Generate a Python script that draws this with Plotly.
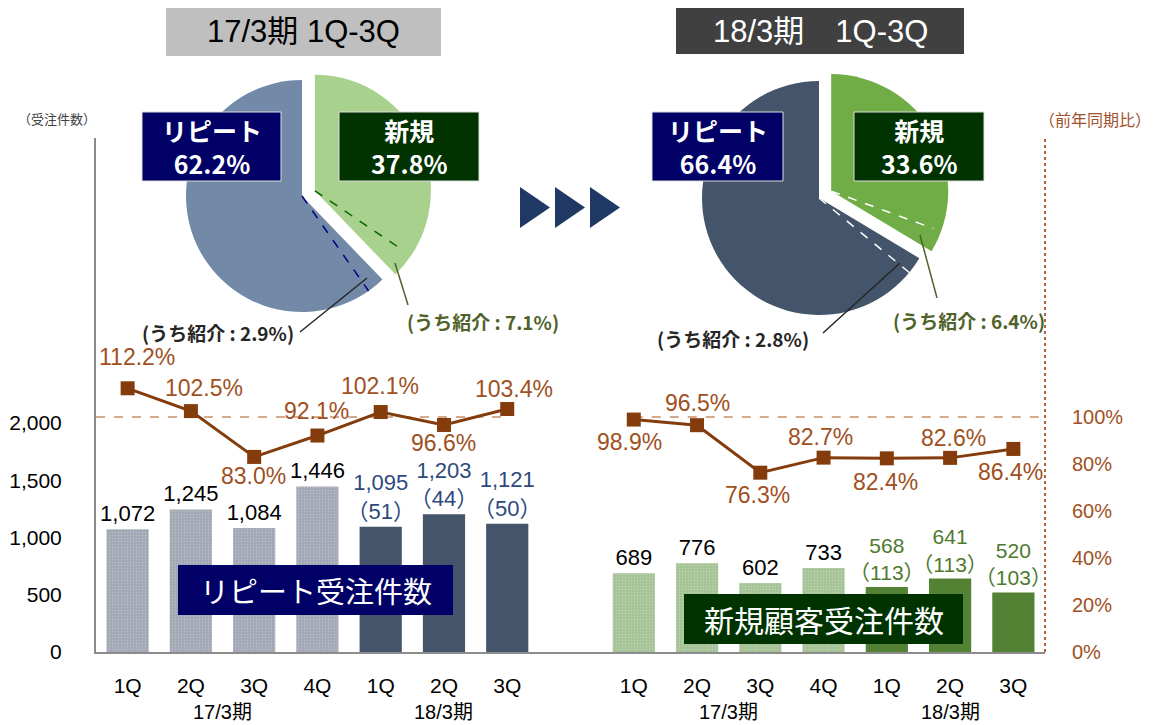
import math
import plotly.graph_objects as go

W, H = 1153, 725
OFF = 8  # page body margin
FW, FH = W - OFF, H - OFF

# ---------------- data ----------------
quarters_prev = ["1Q", "2Q", "3Q", "4Q"]
quarters_cur = ["1Q", "2Q", "3Q"]
period_labels = ["17/3期", "18/3期"]
repeat_prev = [1072, 1245, 1084, 1446]
repeat_cur = [1095, 1203, 1121]
repeat_cur_ref = [51, 44, 50]
new_prev = [689, 776, 602, 733]
new_cur = [568, 641, 520]
new_cur_ref = [113, 113, 103]
repeat_yoy = [112.2, 102.5, 83.0, 92.1, 102.1, 96.6, 103.4]
new_yoy = [98.9, 96.5, 76.3, 82.7, 82.4, 82.6, 86.4]
pie_titles = ["17/3期 1Q-3Q", "18/3期　1Q-3Q"]
pie_labels = ["リピート", "新規"]
share_prev = [62.2, 37.8]
share_cur = [66.4, 33.6]
ref_prev = [2.9, 7.1]
ref_cur = [2.8, 6.4]
box_labels = ["リピート受注件数", "新規顧客受注件数"]
count_axis_title = "（受注件数）"
ratio_axis_title = "（前年同期比）"
count_ticks = [0, 500, 1000, 1500, 2000]
ratio_ticks = [0, 20, 40, 60, 80, 100]

# ---------------- helpers ----------------
def px(x):
    return (x - OFF) / FW


def py(y):
    return 1 - (y - OFF) / FH


JP = "Noto Sans CJK JP"
NUM = "Liberation Sans, Noto Sans CJK JP"
BROWN_LINE = "#843C0C"
BROWN_TXT = "#A0501E"

n_prev = len(quarters_prev)
n_cur = len(quarters_cur)
n_grp = n_prev + n_cur
gap = 1
x_left = list(range(n_grp))
x_right = [i + n_grp + gap for i in range(n_grp)]

fig = go.Figure()

bar_w = 0.667

def bar(xs, ys, color, text, tcolor, pattern=None, size=22):
    mk = dict(color=color, line=dict(width=0))
    if pattern:
        mk["pattern"] = pattern
    return go.Bar(x=xs, y=ys, width=bar_w, marker=mk, text=text,
                  textposition="outside", cliponaxis=False, constraintext="none",
                  textfont=dict(family=NUM, size=size, color=tcolor),
                  hoverinfo="skip", showlegend=False)

gray_pat = dict(shape=".", size=3, solidity=0.3, fgcolor="#B8BCC5", bgcolor="#A0A6B3")
green_pat = dict(shape=".", size=3, solidity=0.3, fgcolor="#BCD2B0", bgcolor="#A3C293")

fig.add_trace(bar(x_left[:n_prev], repeat_prev, "#A2A8B5",
                  [f"{v:,}" for v in repeat_prev], "#000000", gray_pat))
fig.add_trace(bar(x_left[n_prev:], repeat_cur, "#44546A",
                  [f"{v:,}<br>（{r}）" for v, r in zip(repeat_cur, repeat_cur_ref)], "#2E4A7D"))
fig.add_trace(bar(x_right[:n_prev], new_prev, "#A5C495",
                  [f"{v:,}" for v in new_prev], "#000000", green_pat))
fig.add_trace(bar(x_right[n_prev:], new_cur, "#548235",
                  [f"{v:,}<br>（{r}）" for v, r in zip(new_cur, new_cur_ref)], "#4E7A2E", size=21))

for xs, ys in [(x_left, repeat_yoy), (x_right, new_yoy)]:
    fig.add_trace(go.Scatter(x=xs, y=ys, yaxis="y2", mode="lines+markers",
                             line=dict(color=BROWN_LINE, width=3),
                             marker=dict(symbol="square", size=14, color=BROWN_LINE),
                             hoverinfo="skip", showlegend=False, cliponaxis=False))

annotations = []
shapes = []

def note(x, y, text, font, xref="paper", yref="paper", **kw):
    d = dict(x=x, y=y, xref=xref, yref=yref, text=text, showarrow=False,
             xanchor="center", yanchor="middle", font=font)
    d.update(kw)
    annotations.append(d)

# percentage labels (offsets in px)
rep_off = [(9, -31), (13, -23), (-1, 19), (-1, -25), (-1, -26), (0, 18), (7, -20)]
new_off = [(-4, 22), (0, -22), (-3, 22), (-3, -21), (-1, 24), (3, -20), (-3, 23)]
for xs, ys, offs in [(x_left, repeat_yoy, rep_off), (x_right, new_yoy, new_off)]:
    for x, v, (dx, dy) in zip(xs, ys, offs):
        note(x, v, f"{v:.1f}%", dict(family=NUM, size=23, color=BROWN_TXT),
             xref="x", yref="y2", xshift=dx, yshift=-dy)

# 100% reference lines
shapes.append(dict(type="line", xref="x", yref="y2", x0=-0.5, x1=x_left[-1], y0=100, y1=100,
                   line=dict(color="#C98E68", width=1.5, dash="dash"), layer="below"))
shapes.append(dict(type="line", xref="x", yref="y2", x0=x_right[0], x1=x_right[-1] + 0.5, y0=100, y1=100,
                   line=dict(color="#C98E68", width=1.5, dash="dash"), layer="below"))

# right axis dotted line
shapes.append(dict(type="line", xref="x domain", yref="y domain", x0=1, x1=1, y0=0, y1=1,
                   line=dict(color="#B0643C", width=2, dash="dot")))

# period labels under ticks
for xs in (x_left, x_right):
    note((xs[0] + xs[n_prev - 1]) / 2, py(712), period_labels[0],
         dict(family=NUM, size=20, color="#000000"), xref="x")
    note(xs[n_prev + n_cur // 2], py(712), period_labels[1],
         dict(family=NUM, size=20, color="#000000"), xref="x")

# axis titles
note(px(57), py(118), count_axis_title, dict(family=JP, size=13, color="#404040"))
note(px(1095), py(119), ratio_axis_title, dict(family=JP, size=16, color="#A0522D"))

# label boxes
def box(x0, y0, x1, y1, fill, text, size, bold=False, border=None, family=None):
    shapes.append(dict(type="rect", xref="paper", yref="paper", x0=px(x0), x1=px(x1),
                       y0=py(y1), y1=py(y0), fillcolor=fill,
                       line=dict(width=1 if border else 0, color=border or fill)))
    t = f"<b>{text}</b>" if bold else text
    note(px((x0 + x1) / 2), py((y0 + y1) / 2), t,
         dict(family=family or NUM, size=size, color="#FFFFFF"))

box(178, 565, 453, 615, "#000066", box_labels[0], 29, family=JP)
box(684, 594, 963, 644, "#003300", box_labels[1], 30, family=JP)

# titles
shapes.append(dict(type="rect", xref="paper", yref="paper", x0=px(166), x1=px(441), y0=py(56), y1=py(5),
                   fillcolor="#BFBFBF", line=dict(width=0)))
note(px(303), py(31), pie_titles[0], dict(family=NUM, size=31, color="#000000"))
shapes.append(dict(type="rect", xref="paper", yref="paper", x0=px(676), x1=px(964), y0=py(54), y1=py(6),
                   fillcolor="#404040", line=dict(width=0)))
note(px(820), py(32), pie_titles[1], dict(family=NUM, size=31, color="#FFFFFF"))

# ---------------- pies ----------------
pull = 0.12
pies = [
    dict(cx=302, cy=196, r=116, shares=share_prev, refs=ref_prev,
         colors=["#7289A8", "#A9D18E"], dash_colors=["#000080", "#006600"]),
    dict(cx=819, cy=198, r=117, shares=share_cur, refs=ref_cur,
         colors=["#44546A", "#70AD47"], dash_colors=["#FFFFFF", "#FFFFFF"]),
]
for p in pies:
    half = p["r"] * (1 + pull)
    dom = dict(x=[px(p["cx"] - half), px(p["cx"] + half)],
               y=[py(p["cy"] + half), py(p["cy"] - half)])
    # new slice first (clockwise from 12 o'clock), then repeat
    fig.add_trace(go.Pie(values=p["shares"][::-1], labels=pie_labels[::-1], sort=False,
                         direction="clockwise", rotation=0, pull=[pull, 0],
                         marker=dict(colors=p["colors"][::-1], line=dict(width=0)),
                         textinfo="none", hoverinfo="skip", showlegend=False, domain=dom))
    # divider dashed lines for referral share
    edge = 360 * (p["shares"][1] / 100)
    mid_new = edge / 2
    cx, cy, r = p["cx"], p["cy"], p["r"]
    vx = cx + pull * r * math.sin(math.radians(mid_new))
    vy = cy - pull * r * math.cos(math.radians(mid_new))
    th1 = math.radians(edge + 0.85 * p["refs"][0] * 3.6)
    th2 = math.radians(edge - 0.47 * p["refs"][1] * 3.6)
    L1, L2 = 1.0 * r, 0.93 * r
    shapes.append(dict(type="line", xref="paper", yref="paper",
                       x0=px(cx), y0=py(cy), x1=px(cx + L1 * math.sin(th1)), y1=py(cy - L1 * math.cos(th1)),
                       line=dict(color=p["dash_colors"][0], width=1.5, dash="dash")))
    shapes.append(dict(type="line", xref="paper", yref="paper",
                       x0=px(vx), y0=py(vy), x1=px(vx + L2 * math.sin(th2)), y1=py(vy - L2 * math.cos(th2)),
                       line=dict(color=p["dash_colors"][1], width=1.5, dash="dash")))

# pie label boxes
box(142, 112, 281, 181, "#000066", f"{pie_labels[0]}<br>{share_prev[0]}%", 25, True, "#DDDDDD", JP)
box(339, 112, 479, 181, "#003300", f"{pie_labels[1]}<br>{share_prev[1]}%", 25, True, "#DDDDDD", JP)
box(652, 112, 783, 181, "#000066", f"{pie_labels[0]}<br>{share_cur[0]}%", 25, True, "#DDDDDD", JP)
box(854, 112, 984, 181, "#003300", f"{pie_labels[1]}<br>{share_cur[1]}%", 25, True, "#DDDDDD", JP)

# referral leaders & labels
leaders = [((367, 278), (300, 332), "#262626"), ((395, 263), (408, 305), "#4F6228"),
           ((900, 263), (823, 333), "#262626"), ((920, 235), (937, 298), "#4F6228")]
for (a, b, c) in leaders:
    shapes.append(dict(type="line", xref="paper", yref="paper", x0=px(a[0]), y0=py(a[1]),
                       x1=px(b[0]), y1=py(b[1]), line=dict(color=c, width=1.5)))
ref_pos = [((218, 332), ref_prev[0], "#262626"), ((483, 322), ref_prev[1], "#4F6228"),
           ((733, 338), ref_cur[0], "#262626"), ((969, 320), ref_cur[1], "#4F6228")]
for (pos, v, c) in ref_pos:
    note(px(pos[0]), py(pos[1]), f"<b>(うち紹介 : {v}%)</b>", dict(family=JP, size=19, color=c))

# arrows
for x0 in (520, 555, 590):
    shapes.append(dict(type="path", xref="paper", yref="paper",
                       path=f"M {px(x0)},{py(187)} L {px(x0 + 30)},{py(207.5)} L {px(x0)},{py(228)} Z",
                       fillcolor="#1F3864", line=dict(width=0)))

fig.update_layout(
    width=FW, height=FH, template="none",
    margin=dict(l=0, r=0, t=0, b=0, pad=0),
    paper_bgcolor="#FFFFFF", plot_bgcolor="rgba(0,0,0,0)",
    barmode="overlay", showlegend=False,
    xaxis=dict(domain=[px(96), px(1045)], range=[-0.5, x_right[-1] + 0.5],
               tickvals=x_left + x_right, ticktext=(quarters_prev + quarters_cur) * 2,
               tickfont=dict(family=NUM, size=21, color="#000000"),
               showline=True, linecolor="#8C8C8C", linewidth=2, showgrid=False, zeroline=False,
               ticks="", ticklabelstandoff=14, automargin=False),
    yaxis=dict(domain=[py(652), py(138)], range=[0, 4490],
               tickvals=count_ticks, ticktext=[f"{v:,}" for v in count_ticks],
               tickfont=dict(family=NUM, size=21, color="#000000"),
               showline=True, linecolor="#8C8C8C", linewidth=2, showgrid=False, zeroline=False,
               ticks="", ticklabelstandoff=28, automargin=False),
    yaxis2=dict(overlaying="y", side="right", range=[0, 218.7],
                tickvals=ratio_ticks, ticktext=[f"{v}%" for v in ratio_ticks],
                tickfont=dict(family=NUM, size=20, color=BROWN_TXT),
                showline=False, showgrid=False, zeroline=False, ticks="",
                ticklabelstandoff=26, automargin=False),
    annotations=annotations, shapes=shapes,
)

fig.write_html("out.html")
